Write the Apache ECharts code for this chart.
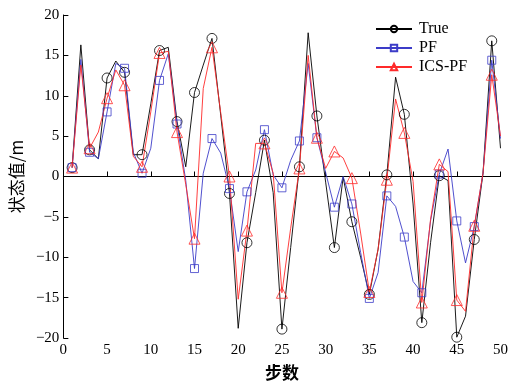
<!DOCTYPE html>
<html>
<head>
<meta charset="utf-8">
<script src="https://cdn.jsdelivr.net/npm/echarts@6/dist/echarts.min.js"></script>
<style>html,body{margin:0;padding:0;background:#fff;}#c{width:511px;height:386px;}</style>
</head>
<body>
<div id="c"></div>
<script>
var steps = [];
for (var i = 1; i <= 50; i++) steps.push(i);
var seriesNames = ['True', 'PF', 'ICS-PF'];
var trueVals = [1.1,16.3,3.3,2.2,12.2,14.3,12.9,2.7,2.7,9.0,
  15.6,16.0,6.8,1.2,10.4,13.8,17.1,7.6,-2.1,-18.8,
  -8.2,-2.0,4.5,-2.0,-18.9,-8.8,1.2,17.8,7.5,-0.7,
  -8.8,-0.1,-5.6,-10.0,-14.6,-9.0,0.2,12.3,7.7,-3.4,
  -18.1,-8.2,0.1,-0.5,-19.9,-17.3,-7.8,0.4,16.8,3.5];
var pfVals = [1.1,14.5,3.0,2.2,8.0,14.0,13.4,3.0,0.4,3.5,
  11.9,15.2,6.5,-0.5,-11.4,0.4,4.7,2.9,-1.5,-9.3,
  -1.9,0.8,5.8,0.2,-1.4,2.0,4.4,14.0,4.8,0.5,
  -3.8,0.0,-3.4,-9.4,-15.1,-11.9,-2.4,-3.7,-7.5,-13.0,
  -14.4,-5.5,0.3,3.4,-5.5,-10.7,-6.2,0.4,14.4,4.7];
var icsVals = [1.1,13.8,3.5,5.5,9.7,13.2,11.3,2.5,1.2,8.0,
  15.3,15.5,5.5,-1.0,-7.7,10.9,16.0,7.9,0.0,-15.2,
  -6.7,4.1,4.1,0.4,-14.4,-6.4,1.0,15.0,4.8,1.0,
  3.1,2.3,-0.2,-7.0,-14.3,-9.0,-0.4,9.6,5.4,-0.6,
  -15.6,-5.3,1.5,0.6,-15.3,-16.7,-6.1,0.4,12.6,5.0];
var xTicks = [0,5,10,15,20,25,30,35,40,45,50];
var yTicks = [-20,-15,-10,-5,0,5,10,15,20];

function pairs(vals){ return steps.map(function(s,i){ return [s, vals[i]]; }); }
function symSize(sz){ return function(v, p){ return (p.dataIndex % 2 === 0) ? sz : 0; }; }
function mk(name, vals, color, symbol, size){
  return {name: name, type: 'line', data: pairs(vals),
    symbol: symbol, symbolSize: symSize(size), showAllSymbol: true,
    lineStyle: {width: 0.9, color: color},
    itemStyle: {color: 'rgba(255,255,255,0)', borderColor: color, borderWidth: 0.8}};
}

var serif = '"Liberation Serif","Times New Roman",serif';
var chart = echarts.init(document.getElementById('c'), null, {renderer:'canvas'});
chart.setOption({
  animation: false,
  backgroundColor: '#fff',
  grid: {left: 61, right: 6, top: 15, bottom: 48, containLabel: false},
  legend: {
    orient: 'vertical', left: 370, top: 16, itemGap: 3,
    itemWidth: 36, itemHeight: 8,
    textStyle: {fontFamily: serif, fontSize: 16, color: '#000', padding: [0,0,0,2]},
    data: seriesNames
  },
  xAxis: {
    type: 'value', min: 0, max: 50, interval: 5,
    name: '步数', nameLocation: 'middle', nameGap: 26,
    nameTextStyle: {fontFamily: '"Noto Sans CJK SC"', fontSize: 17, fontWeight: 'bold', color: '#000'},
    axisLine: {lineStyle: {color: '#000', width: 1}},
    axisTick: {inside: true, length: 5, lineStyle: {color: '#000'}},
    axisLabel: {fontFamily: serif, fontSize: 15, color: '#000', margin: 5,
      formatter: function(v){ return xTicks.indexOf(v) >= 0 ? String(v) : ''; }},
    splitLine: {show: false}
  },
  yAxis: {
    type: 'value', min: -20, max: 20, interval: 5,
    name: '状态值/m', nameLocation: 'middle', nameGap: 36,
    nameTextStyle: {fontFamily: '"Noto Sans CJK SC"', fontSize: 17, color: '#000'},
    axisLine: {show: true, lineStyle: {color: '#000', width: 1}},
    axisTick: {show: true, inside: true, length: 5, lineStyle: {color: '#000'}},
    axisLabel: {fontFamily: serif, fontSize: 15, color: '#000', margin: 4,
      formatter: function(v){ return yTicks.indexOf(v) >= 0 ? String(v).replace('-', '\u2212') : ''; }},
    splitLine: {show: false}
  },
  series: [
    mk('True', trueVals, '#000000', 'circle', 10),
    mk('PF', pfVals, '#3c3cc8', 'rect', 8),
    mk('ICS-PF', icsVals, '#ff2a2a', 'triangle', 11)
  ]
});
</script>
</body>
</html>
